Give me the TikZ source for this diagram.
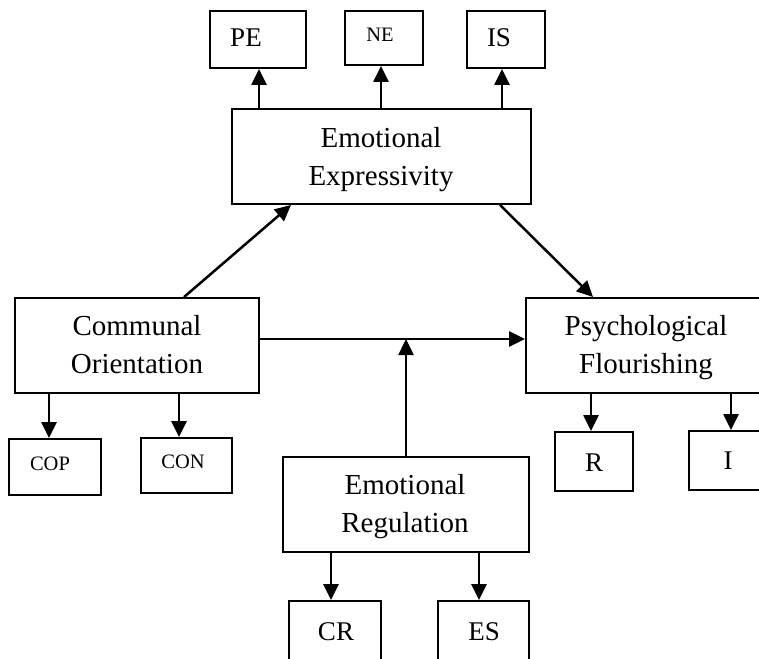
\documentclass[tikz,border=0pt]{standalone}
\usepackage{fontspec}
\setmainfont{Liberation Serif}
\usetikzlibrary{arrows.meta}
\begin{document}
\begin{tikzpicture}[x=1pt,y=-1pt,
 bx/.style={draw, line width=1.9pt, inner sep=0pt},
 big/.style={font=\fontsize{29}{38}\selectfont, align=center, inner sep=0pt},
 lbl/.style={font=\fontsize{27}{32}\selectfont, inner sep=0pt, anchor=base},
 sml/.style={font=\fontsize{20.5}{24}\selectfont, inner sep=0pt, anchor=base},
 arr/.style={line width=2.5pt, -{Triangle[length=16pt,width=15pt]}}]
\useasboundingbox (0,0) rectangle (759,658);
\clip (0,0) rectangle (759,658);
% boxes
\node[bx, minimum width=96pt, minimum height=57pt] (PE) at (258,39.5) {};
\node[bx, minimum width=78pt, minimum height=54pt] (NE) at (384,38) {};
\node[bx, minimum width=78pt, minimum height=57pt] (IS) at (506,39.5) {};
\node[bx, minimum width=299pt, minimum height=95pt] (EE) at (381.5,156.5) {};
\node[bx, minimum width=244pt, minimum height=95pt] (CO) at (137,345.5) {};
\node[bx, minimum width=240pt, minimum height=95pt] (PF) at (646,345.5) {};
\node[bx, minimum width=78pt, minimum height=59pt] (R) at (594,461.5) {};
\node[bx, minimum width=78pt, minimum height=59pt] (I) at (728,460.5) {};
\node[bx, minimum width=92pt, minimum height=56pt] (COP) at (55,467) {};
\node[bx, minimum width=91pt, minimum height=55pt] (CON) at (186.5,465.5) {};
\node[bx, minimum width=246pt, minimum height=95pt] (ER) at (406,504.5) {};
\node[bx, minimum width=92pt, minimum height=80pt] (CR) at (335,641) {};
\node[bx, minimum width=91pt, minimum height=80pt] (ES) at (483.5,641) {};
% texts
\node[lbl] (tPE) at (246,47) {PE};
\node[sml] (tNE) at (380,42) {NE};
\node[lbl] (tIS) at (499,47) {IS};
\node[big] (tEE) at (381,159.8) {Emotional\\Expressivity};
\node[big] (tCO) at (137,344.1) {Communal\\Orientation};
\node[big] (tPF) at (646,347.3) {Psychological\\Flourishing};
\node[big] (tER) at (405,506.2) {Emotional\\Regulation};
\node[sml] (tCOP) at (50,470) {COP};
\node[sml] (tCON) at (183,468) {CON};
\node[lbl] (tR) at (594,471) {R};
\node[lbl] (tI) at (728,469) {I};
\node[lbl] (tCR) at (336,640) {CR};
\node[lbl] (tES) at (484,640) {ES};
% x/y positions for connectors
\coordinate (x1) at (259,0);
\coordinate (x2) at (381,0);
\coordinate (x3) at (502,0);
\coordinate (x4) at (184,0);
\coordinate (x5) at (291,0);
\coordinate (x6) at (500,0);
\coordinate (x7) at (593,0);
\coordinate (x8) at (49,0);
\coordinate (x9) at (179,0);
\coordinate (x10) at (591,0);
\coordinate (x11) at (731,0);
\coordinate (x12) at (406,0);
\coordinate (x13) at (331,0);
\coordinate (x14) at (479,0);
\coordinate (y1) at (0,339);
% connectors
\draw[arr] (x1 |- EE.north) -- (x1 |- PE.south);
\draw[arr] (x2 |- EE.north) -- (x2 |- NE.south);
\draw[arr] (x3 |- EE.north) -- (x3 |- IS.south);
\draw[arr] (x4 |- CO.north) -- (x5 |- EE.south);
\draw[arr] (x6 |- EE.south) -- (x7 |- PF.north);
\draw[arr] (CO.east |- y1) -- (PF.west |- y1);
\draw[arr] (x12 |- ER.north) -- (x12 |- y1);
\draw[arr] (x8 |- CO.south) -- (x8 |- COP.north);
\draw[arr] (x9 |- CO.south) -- (x9 |- CON.north);
\draw[arr] (x10 |- PF.south) -- (x10 |- R.north);
\draw[arr] (x11 |- PF.south) -- (x11 |- I.north);
\draw[arr] (x13 |- ER.south) -- (x13 |- CR.north);
\draw[arr] (x14 |- ER.south) -- (x14 |- ES.north);
\end{tikzpicture}
\end{document}
